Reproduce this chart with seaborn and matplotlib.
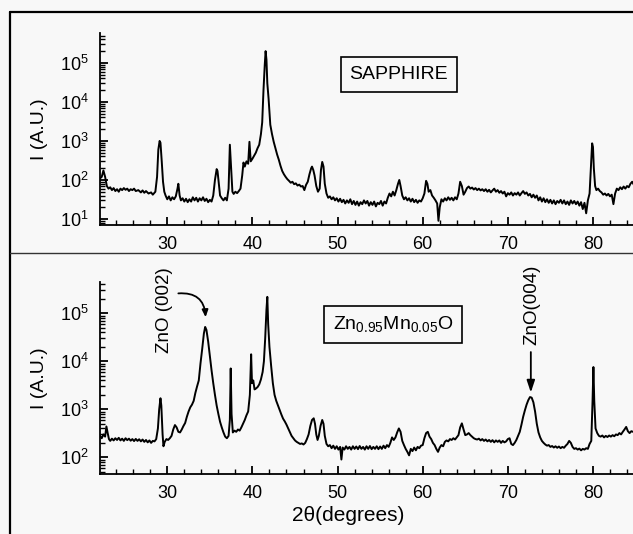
import matplotlib
matplotlib.use('Agg')
import pandas as pd
import matplotlib.pyplot as plt
import seaborn as sns
from matplotlib.lines import Line2D
from matplotlib.ticker import FixedLocator, MultipleLocator, LogLocator, NullFormatter

# XRD scan of the bare sapphire substrate (top panel)
sapphire_2theta = [
    22.1, 22.3, 22.5, 22.7, 22.9, 23.1, 23.3, 23.5, 23.7, 23.9,
    24.1, 24.3, 24.5, 24.7, 24.9, 25.1, 25.3, 25.5, 25.7, 25.9,
    26.1, 26.3, 26.6, 26.9, 27.1, 27.3, 27.5, 27.8, 28.1, 28.3,
    28.6, 28.8, 28.95, 29.1, 29.2, 29.35, 29.5, 29.65, 29.8, 30.0,
    30.2, 30.4, 30.6, 30.8, 31.0, 31.2, 31.3, 31.45, 31.6, 31.8,
    32.0, 32.2, 32.4, 32.6, 32.8, 33.0, 33.2, 33.4, 33.6, 33.8,
    34.0, 34.2, 34.4, 34.6, 34.8, 35.0, 35.2, 35.4, 35.6, 35.8,
    35.9, 36.05, 36.2, 36.4, 36.6, 36.8, 37.0, 37.2, 37.35, 37.5,
    37.65, 37.8, 38.0, 38.2, 38.4, 38.6, 38.8, 38.95, 39.1, 39.3,
    39.5, 39.65, 39.8, 40.0, 40.2, 40.4, 40.6, 40.8, 41.0, 41.15,
    41.3, 41.45, 41.55, 41.65, 41.75, 41.9, 42.1, 42.3, 42.5, 42.7,
    42.9, 43.1, 43.3, 43.5, 43.7, 43.9, 44.1, 44.3, 44.5, 44.7,
    44.9, 45.1, 45.3, 45.5, 45.7, 45.9, 46.1, 46.3, 46.5, 46.7,
    46.9, 47.0, 47.15, 47.3, 47.5, 47.7, 47.9, 48.05, 48.2, 48.35,
    48.5, 48.7, 48.9, 49.1, 49.3, 49.5, 49.7, 49.9, 50.1, 50.3,
    50.5, 50.7, 50.9, 51.1, 51.3, 51.5, 51.7, 51.9, 52.1, 52.3,
    52.5, 52.7, 52.9, 53.1, 53.3, 53.5, 53.7, 53.9, 54.1, 54.3,
    54.5, 54.7, 54.9, 55.1, 55.3, 55.5, 55.7, 55.9, 56.1, 56.3,
    56.5, 56.7, 56.9, 57.1, 57.25, 57.4, 57.6, 57.8, 58.0, 58.2,
    58.4, 58.6, 58.8, 59.0, 59.2, 59.4, 59.6, 59.8, 60.0, 60.2,
    60.4, 60.55, 60.7, 60.9, 61.1, 61.3, 61.5, 61.7, 61.85, 62.0,
    62.2, 62.4, 62.6, 62.8, 63.0, 63.2, 63.4, 63.6, 63.8, 64.0,
    64.2, 64.4, 64.6, 64.8, 65.0, 65.2, 65.4, 65.6, 65.8, 66.0,
    66.2, 66.4, 66.6, 66.8, 67.0, 67.2, 67.4, 67.6, 67.8, 68.0,
    68.2, 68.4, 68.6, 68.8, 69.0, 69.2, 69.4, 69.6, 69.8, 70.0,
    70.2, 70.4, 70.6, 70.8, 71.0, 71.2, 71.4, 71.6, 71.8, 72.0,
    72.2, 72.4, 72.6, 72.8, 73.0, 73.2, 73.4, 73.6, 73.8, 74.0,
    74.2, 74.4, 74.6, 74.8, 75.0, 75.2, 75.4, 75.6, 75.8, 76.0,
    76.2, 76.4, 76.6, 76.8, 77.0, 77.2, 77.4, 77.6, 77.8, 78.0,
    78.2, 78.4, 78.6, 78.8, 79.0, 79.2, 79.4, 79.6, 79.8, 79.9,
    80.0, 80.1, 80.25, 80.4, 80.6, 80.8, 81.0, 81.2, 81.4, 81.6,
    81.8, 82.0, 82.2, 82.4, 82.6, 82.8, 83.0, 83.2, 83.4, 83.6,
    83.8, 84.0, 84.2, 84.4, 84.6, 84.8,
]
sapphire_counts = [
    110, 120, 175, 120, 70, 60, 65, 55, 62, 52,
    58, 50, 60, 55, 62, 56, 60, 52, 58, 55,
    60, 52, 55, 48, 54, 47, 52, 45, 48, 42,
    50, 120, 600, 1000, 900, 300, 90, 50, 40, 32,
    38, 30, 36, 32, 38, 60, 80, 40, 30, 34,
    28, 33, 27, 32, 28, 36, 30, 35, 28, 34,
    30, 36, 29, 33, 27, 31, 28, 40, 100, 190,
    170, 80, 40, 34, 30, 35, 30, 60, 800, 200,
    50, 44, 50, 46, 52, 60, 130, 280, 220, 300,
    260, 950, 300, 350, 420, 500, 650, 800, 1500, 3000,
    20000, 90000, 200000, 120000, 30000, 12000, 2600, 1500, 950, 650,
    450, 330, 230, 170, 140, 120, 105, 95, 85, 90,
    78, 82, 72, 76, 68, 70, 55, 75, 90, 140,
    200, 220, 180, 130, 70, 50, 60, 180, 290, 220,
    80, 45, 35, 38, 32, 36, 30, 34, 28, 33,
    27, 31, 25, 30, 26, 32, 24, 29, 23, 28,
    22, 27, 24, 30, 25, 29, 22, 27, 23, 28,
    21, 26, 24, 29, 22, 28, 25, 35, 45, 38,
    50, 40, 55, 80, 100, 70, 40, 32, 36, 30,
    34, 28, 33, 27, 31, 26, 30, 28, 34, 45,
    95, 80, 50, 55, 40, 35, 30, 25, 9, 20,
    32, 28, 34, 30, 36, 31, 35, 30, 36, 32,
    45, 90, 70, 42, 50, 62, 68, 60, 64, 57,
    62, 55, 60, 54, 58, 52, 58, 50, 56, 48,
    54, 60, 50, 55, 47, 52, 45, 50, 38, 46,
    42, 48, 40, 46, 42, 48, 40, 46, 52, 44,
    48, 40, 44, 36, 42, 35, 40, 30, 36, 28,
    34, 27, 32, 26, 31, 25, 30, 24, 29, 26,
    31, 25, 30, 24, 28, 23, 30, 25, 29, 24,
    28, 22, 27, 18, 26, 14, 30, 45, 300, 870,
    700, 200, 70, 55, 60, 52, 48, 42, 45, 40,
    44, 38, 42, 24, 45, 60, 55, 65, 58, 68,
    60, 70, 65, 80, 90, 75,
]

# XRD scan of the Zn0.95Mn0.05O film on sapphire (bottom panel)
film_2theta = [
    22.1, 22.3, 22.5, 22.7, 22.85, 23.0, 23.15, 23.3, 23.5, 23.7,
    23.9, 24.1, 24.3, 24.5, 24.7, 24.9, 25.1, 25.3, 25.5, 25.7,
    25.9, 26.1, 26.3, 26.5, 26.7, 26.9, 27.1, 27.3, 27.5, 27.7,
    27.9, 28.1, 28.3, 28.5, 28.7, 28.9, 29.05, 29.2, 29.3, 29.45,
    29.55, 29.7, 29.9, 30.1, 30.3, 30.5, 30.7, 30.9, 31.1, 31.3,
    31.5, 31.7, 31.9, 32.1, 32.3, 32.5, 32.7, 32.9, 33.1, 33.3,
    33.5, 33.7, 33.9, 34.1, 34.3, 34.45, 34.6, 34.8, 35.0, 35.2,
    35.4, 35.6, 35.8, 36.0, 36.2, 36.4, 36.6, 36.8, 37.0, 37.2,
    37.35, 37.45, 37.55, 37.7, 37.9, 38.1, 38.3, 38.5, 38.7, 38.9,
    39.1, 39.3, 39.5, 39.7, 39.85, 39.95, 40.1, 40.25, 40.4, 40.6,
    40.8, 41.0, 41.2, 41.35, 41.5, 41.65, 41.75, 41.85, 42.0, 42.2,
    42.4, 42.6, 42.8, 43.0, 43.2, 43.4, 43.6, 43.8, 44.0, 44.2,
    44.4, 44.6, 44.8, 45.0, 45.2, 45.4, 45.6, 45.8, 46.0, 46.2,
    46.4, 46.6, 46.8, 47.0, 47.2, 47.35, 47.5, 47.65, 47.8, 48.0,
    48.2, 48.35, 48.5, 48.7, 48.9, 49.1, 49.3, 49.5, 49.7, 49.9,
    50.1, 50.3, 50.45, 50.6, 50.8, 51.0, 51.2, 51.4, 51.6, 51.8,
    52.0, 52.2, 52.4, 52.6, 52.8, 53.0, 53.2, 53.4, 53.6, 53.8,
    54.0, 54.2, 54.4, 54.6, 54.8, 55.0, 55.2, 55.4, 55.6, 55.8,
    56.0, 56.2, 56.4, 56.6, 56.8, 57.0, 57.2, 57.4, 57.6, 57.8,
    58.0, 58.2, 58.4, 58.6, 58.8, 59.0, 59.2, 59.4, 59.6, 59.8,
    60.0, 60.2, 60.4, 60.6, 60.8, 61.0, 61.2, 61.4, 61.6, 61.8,
    62.0, 62.2, 62.4, 62.6, 62.8, 63.0, 63.2, 63.4, 63.6, 63.8,
    64.0, 64.2, 64.4, 64.6, 64.8, 65.0, 65.2, 65.4, 65.6, 65.8,
    66.0, 66.2, 66.4, 66.6, 66.8, 67.0, 67.2, 67.4, 67.6, 67.8,
    68.0, 68.2, 68.4, 68.6, 68.8, 69.0, 69.2, 69.4, 69.6, 69.8,
    70.0, 70.2, 70.4, 70.6, 70.8, 71.0, 71.2, 71.4, 71.6, 71.8,
    72.0, 72.2, 72.4, 72.6, 72.8, 73.0, 73.2, 73.4, 73.6, 73.8,
    74.0, 74.2, 74.4, 74.6, 74.8, 75.0, 75.2, 75.4, 75.6, 75.8,
    76.0, 76.2, 76.4, 76.6, 76.8, 77.0, 77.2, 77.4, 77.6, 77.8,
    78.0, 78.2, 78.4, 78.6, 78.8, 79.0, 79.2, 79.4, 79.6, 79.8,
    79.95, 80.05, 80.15, 80.3, 80.5, 80.7, 80.9, 81.1, 81.3, 81.5,
    81.7, 81.9, 82.1, 82.3, 82.5, 82.7, 82.9, 83.1, 83.3, 83.5,
    83.7, 83.9, 84.1, 84.3, 84.5, 84.7,
]
film_counts = [
    280, 250, 300, 270, 440, 320, 240, 220, 245, 225,
    250, 230, 255, 225, 245, 220, 250, 228, 245, 222,
    240, 218, 242, 220, 238, 215, 235, 210, 230, 205,
    225, 200, 220, 215, 240, 400, 1000, 1700, 1200, 300,
    170, 210, 240, 230, 250, 280, 380, 470, 420, 340,
    330, 380, 450, 520, 700, 900, 1100, 1250, 1500, 2200,
    3000, 4000, 9000, 18000, 38000, 52000, 45000, 26000, 13000, 6500,
    3500, 2000, 1200, 800, 550, 420, 330, 270, 250, 280,
    600, 7100, 800, 330, 360, 340, 380, 360, 420, 500,
    600, 750, 900, 2000, 14000, 3500, 4000, 2600, 2700, 2900,
    3300, 4200, 6000, 10000, 30000, 120000, 220000, 60000, 20000, 8000,
    3500, 2000, 1500, 1200, 950, 780, 640, 560, 480, 400,
    330, 280, 250, 225, 210, 200, 190, 195, 185, 200,
    240, 300, 450, 600, 650, 500, 300, 230, 280, 450,
    600, 500, 280, 190, 170, 180, 155, 175, 150, 170,
    145, 165, 90, 160, 145, 170, 150, 165, 145, 170,
    150, 168, 148, 172, 150, 165, 145, 170, 150, 172,
    148, 165, 150, 170, 148, 168, 150, 175, 155, 180,
    165, 200, 260, 230, 260, 330, 400, 340, 220, 180,
    150, 130, 110, 150, 135, 160, 140, 165, 155, 175,
    180, 250, 320, 340, 270, 240, 200, 180, 150, 130,
    160, 180, 170, 210, 225, 215, 240, 230, 250, 235,
    260, 290, 420, 510, 380, 290, 300, 320, 290, 270,
    250, 240, 235, 245, 225, 240, 220, 235, 215, 230,
    210, 228, 205, 225, 210, 225, 200, 220, 205, 215,
    240, 250, 190, 180, 200, 230, 280, 340, 480, 700,
    950, 1250, 1550, 1800, 1750, 1400, 900, 500, 330, 260,
    220, 200, 185, 175, 180, 165, 172, 160, 170, 158,
    168, 155, 165, 158, 175, 190, 220, 200, 165, 150,
    155, 145, 152, 140, 150, 145, 155, 150, 190, 220,
    1500, 7600, 1500, 400, 320, 280, 270, 285, 260, 280,
    265, 285, 270, 290, 275, 300, 290, 320, 300, 340,
    380, 430, 350, 320, 350, 340,
]

x_ticks = [30, 40, 50, 60, 70, 80]
top_y_ticks = [1e1, 1e2, 1e3, 1e4, 1e5]
bottom_y_ticks = [1e2, 1e3, 1e4, 1e5]

BG = '#f8f8f8'

sns.set_theme(style='ticks')
plt.rcParams['font.family'] = ['Liberation Sans', 'DejaVu Sans']
plt.rcParams['mathtext.fontset'] = 'custom'
plt.rcParams['mathtext.rm'] = 'Liberation Sans'
plt.rcParams['mathtext.it'] = 'Liberation Sans:italic'
plt.rcParams['mathtext.bf'] = 'Liberation Sans:bold'
plt.rcParams['mathtext.default'] = 'regular'


def style_panel(ax, ylim, yticks):
    """Log y axis, open frame, inward ticks like the original figure"""
    ax.set_yscale('log')
    ax.set_xlim(22.1, 84.7)
    ax.set_ylim(*ylim)
    ax.set_facecolor(BG)
    for side in ['top', 'right']:
        ax.spines[side].set_visible(False)
    for side in ['left', 'bottom']:
        ax.spines[side].set_color('black')
        ax.spines[side].set_linewidth(1.3)
    ax.xaxis.set_major_locator(FixedLocator(x_ticks))
    ax.xaxis.set_minor_locator(MultipleLocator(2))
    ax.yaxis.set_major_locator(FixedLocator(yticks))
    ax.yaxis.set_minor_locator(LogLocator(base=10, subs=range(2, 10), numticks=20))
    ax.yaxis.set_minor_formatter(NullFormatter())
    ax.tick_params(which='both', direction='in', color='black', labelcolor='black',
                   labelsize=13, top=False, right=False)
    ax.tick_params(which='major', length=6, width=1.3, pad=8)
    ax.tick_params(which='minor', length=3.5, width=1.0)
    ax.set_xlabel('')
    ax.set_ylabel('I (A.U.)', fontsize=14, color='black')
    ax.yaxis.set_label_coords(-0.098, 0.5)


fig = plt.figure(figsize=(6.33, 5.34), dpi=100, facecolor=BG)
ax_top = fig.add_axes([0.158, 0.579, 0.842, 0.3596])
ax_bot = fig.add_axes([0.158, 0.1124, 0.842, 0.3596])

top_df = pd.DataFrame({'two_theta': sapphire_2theta, 'intensity': sapphire_counts})
bot_df = pd.DataFrame({'two_theta': film_2theta, 'intensity': film_counts})

sns.lineplot(data=top_df, x='two_theta', y='intensity', ax=ax_top,
             color='black', lw=1.4, estimator=None, sort=False)
sns.lineplot(data=bot_df, x='two_theta', y='intensity', ax=ax_bot,
             color='black', lw=1.4, estimator=None, sort=False)

style_panel(ax_top, (7.1, 5.9e5), top_y_ticks)
style_panel(ax_bot, (45, 4.5e5), bottom_y_ticks)

ax_bot.set_xlabel('2θ(degrees)', fontsize=15, color='black')
ax_bot.xaxis.set_label_coords(0.465, -0.165)

# sample labels in boxes
box = dict(boxstyle='square,pad=0.45', fc=BG, ec='black', lw=1.2)
ax_top.text(57.2, 5.1e4, 'SAPPHIRE', ha='center', va='center',
            fontsize=14, color='black', bbox=box)
ax_bot.text(56.5, 5.9e4, 'Zn$_{0.95}$Mn$_{0.05}$O', ha='center', va='center',
            fontsize=14, color='black', bbox=box)

# peak annotations
ax_bot.text(29.65, 1.16e5, 'ZnO (002)', rotation=90, ha='center', va='center',
            fontsize=13.5, color='black')
ax_bot.annotate('', xy=(34.5, 8.3e4), xytext=(31.3, 2.6e5),
                arrowprops=dict(arrowstyle='-|>,head_length=0.35,head_width=0.15',
                                connectionstyle='arc3,rad=-0.5', color='black',
                                lw=1.3, shrinkA=0, shrinkB=0))
ax_bot.text(72.8, 1.47e5, 'ZnO(004)', rotation=90, ha='center', va='center',
            fontsize=13.5, color='black')
ax_bot.annotate('', xy=(72.7, 2240), xytext=(72.7, 1.56e4),
                arrowprops=dict(arrowstyle='-|>,head_length=0.6,head_width=0.2',
                                color='black', lw=1.3, shrinkA=0, shrinkB=0))

# outer frame and panel separator
fig.add_artist(Line2D([0.0158, 0.0158], [0.0, 0.9775], transform=fig.transFigure,
                      color='black', lw=1.6))
fig.add_artist(Line2D([0.0158, 1.0], [0.9775, 0.9775], transform=fig.transFigure,
                      color='black', lw=1.6))
fig.add_artist(Line2D([0.0158, 1.0], [0.5262, 0.5262], transform=fig.transFigure,
                      color='#333333', lw=1.0))

fig.savefig('out.png', dpi=100, facecolor=BG)
plt.close(fig)
